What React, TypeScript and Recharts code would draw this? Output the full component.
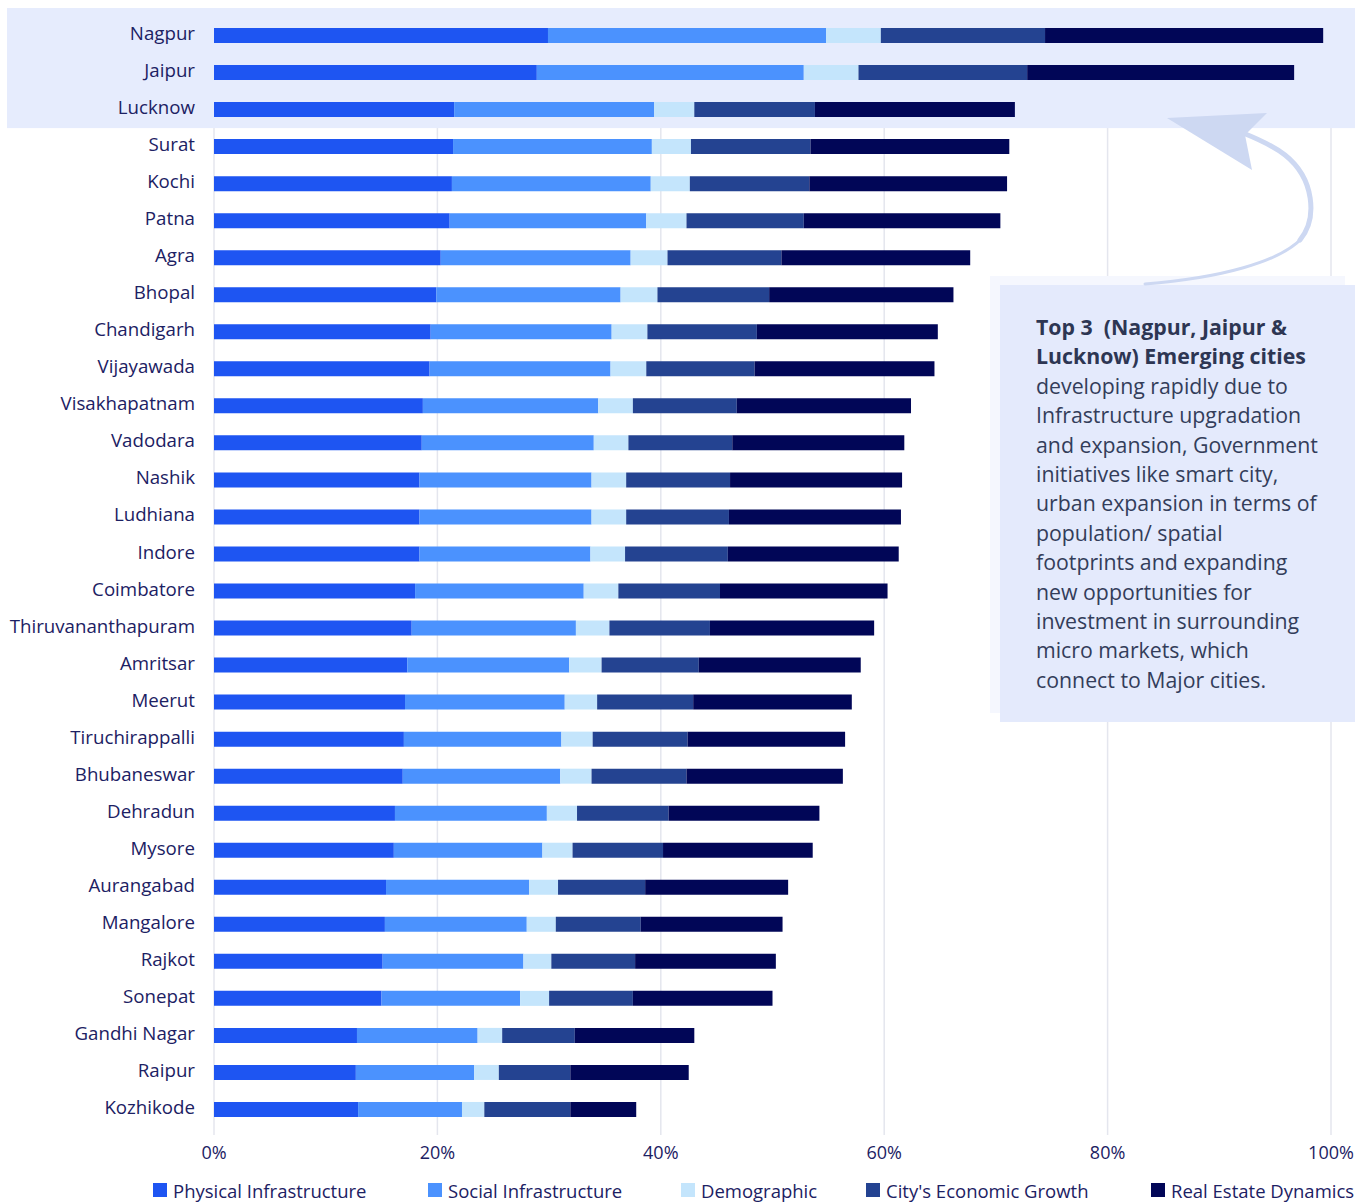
import React from "react";
import {
  BarChart,
  Bar,
  XAxis,
  YAxis,
  CartesianGrid,
  Legend,
  ReferenceArea,
} from "recharts";

const cities = [
  "Nagpur", "Jaipur", "Lucknow", "Surat", "Kochi", "Patna", "Agra", "Bhopal",
  "Chandigarh", "Vijayawada", "Visakhapatnam", "Vadodara", "Nashik", "Ludhiana",
  "Indore", "Coimbatore", "Thiruvananthapuram", "Amritsar", "Meerut",
  "Tiruchirappalli", "Bhubaneswar", "Dehradun", "Mysore", "Aurangabad",
  "Mangalore", "Rajkot", "Sonepat", "Gandhi Nagar", "Raipur", "Kozhikode",
];

const physical = [29.9, 28.9, 21.5, 21.4, 21.3, 21.1, 20.3, 19.9, 19.4, 19.3, 18.7, 18.6, 18.4, 18.4, 18.4, 18.0, 17.7, 17.3, 17.1, 17.0, 16.9, 16.2, 16.1, 15.4, 15.3, 15.1, 15.0, 12.8, 12.7, 12.9];
const social = [24.9, 23.9, 17.9, 17.8, 17.8, 17.6, 17.0, 16.5, 16.2, 16.2, 15.7, 15.4, 15.4, 15.4, 15.3, 15.1, 14.7, 14.5, 14.3, 14.1, 14.1, 13.6, 13.3, 12.8, 12.7, 12.6, 12.4, 10.8, 10.6, 9.3];
const demographic = [4.9, 4.9, 3.6, 3.5, 3.5, 3.6, 3.3, 3.3, 3.2, 3.2, 3.1, 3.1, 3.1, 3.1, 3.1, 3.1, 3.0, 2.9, 2.9, 2.8, 2.8, 2.7, 2.7, 2.6, 2.6, 2.5, 2.6, 2.2, 2.2, 2.0];
const economic = [14.7, 15.1, 10.8, 10.7, 10.7, 10.5, 10.2, 10.0, 9.8, 9.7, 9.3, 9.3, 9.3, 9.2, 9.2, 9.1, 9.0, 8.7, 8.6, 8.5, 8.5, 8.2, 8.1, 7.8, 7.6, 7.5, 7.5, 6.5, 6.4, 7.7];
const realEstate = [24.9, 23.9, 17.9, 17.8, 17.7, 17.6, 16.9, 16.5, 16.2, 16.1, 15.6, 15.4, 15.4, 15.4, 15.3, 15.0, 14.7, 14.5, 14.2, 14.1, 14.0, 13.5, 13.4, 12.8, 12.7, 12.6, 12.5, 10.7, 10.6, 5.9];

const xTicks = [0, 20, 40, 60, 80, 100];

const seriesList = [
  { key: "physical", name: "Physical Infrastructure", color: "#1e55f2" },
  { key: "social", name: "Social Infrastructure", color: "#4b92fe" },
  { key: "demographic", name: "Demographic", color: "#c4e5fc" },
  { key: "economic", name: "City's Economic Growth", color: "#244391" },
  { key: "realEstate", name: "Real Estate Dynamics", color: "#010657" },
];

const data = cities.map((city, i) => ({
  city,
  physical: physical[i],
  social: social[i],
  demographic: demographic[i],
  economic: economic[i],
  realEstate: realEstate[i],
}));

const FONT = "'Open Sans', 'Noto Sans', sans-serif";
const NAVY = "#1c2163";

const noteLines = [
  "developing rapidly due to",
  "Infrastructure upgradation",
  "and expansion, Government",
  "initiatives like smart city,",
  "urban expansion in terms of",
  "population/ spatial",
  "footprints and expanding",
  "new opportunities for",
  "investment in surrounding",
  "micro markets, which",
  "connect to Major cities.",
];

// item widths so the squares land where the original legend has them
const legendWidths = [275, 253, 185, 285, 210];

function LegendRow() {
  return (
    <div style={{ display: "flex", paddingLeft: 153, height: 30, alignItems: "center" }}>
      {seriesList.map((s, i) => (
        <div key={s.key} style={{ width: legendWidths[i], display: "flex", alignItems: "center", whiteSpace: "nowrap" }}>
          <span style={{ width: 14, height: 14, background: s.color, display: "inline-block", marginRight: 6 }} />
          <span style={{ fontSize: 18.5, color: NAVY, fontFamily: FONT }}>{s.name}</span>
        </div>
      ))}
    </div>
  );
}

function Highlight(props: any) {
  const { x, y, width, height } = props;
  return <rect x={x - 207} y={y - 9} width={width + 231} height={height + 9} fill="#e6ecfd" />;
}

function CityTick(props: any) {
  const { x, y, payload } = props;
  return (
    <text x={x} y={y - 2} dy="0.35em" textAnchor="end" fill={NAVY} fontSize={18.7} fontFamily={FONT}>
      {payload.value}
    </text>
  );
}

export default function App() {
  return (
    <div style={{ position: "absolute", left: 0, top: 0, width: 1362, height: 1202, background: "#fff", fontFamily: FONT }}>
      <BarChart
        width={1362}
        height={1202}
        data={data}
        layout="vertical"
        margin={{ top: 17, right: 31, left: 0, bottom: 14 }}
        barSize={15}
      >
        <CartesianGrid horizontal={false} stroke="#e4e6ee" strokeWidth={1.5} />
        <ReferenceArea y1="Nagpur" y2="Lucknow" ifOverflow="visible" shape={<Highlight />} />
        <XAxis
          type="number"
          domain={[0, 100]}
          ticks={xTicks}
          tickFormatter={(v) => `${v}%`}
          axisLine={false}
          tickLine={{ stroke: "#e4e6ee", strokeWidth: 1.5 }}
          tickSize={7}
          tickMargin={11}
          height={30}
          tick={{ fill: NAVY, fontSize: 18, fontFamily: FONT }}
          interval={0}
        />
        <YAxis
          type="category"
          dataKey="city"
          width={214}
          axisLine={false}
          tickLine={false}
          tickMargin={13}
          interval={0}
          tick={<CityTick />}
        />
        <Legend verticalAlign="bottom" height={30} content={() => <LegendRow />} wrapperStyle={{ left: 0, width: 1362, top: 1175 }} />
        {seriesList.map((s) => (
          <Bar key={s.key} dataKey={s.key} name={s.name} stackId="a" fill={s.color} isAnimationActive={false} />
        ))}
      </BarChart>

      <div style={{ position: "absolute", left: 990, top: 276, width: 355, height: 437, background: "#f5f7fe" }} />
      <div style={{ position: "absolute", left: 1000, top: 285, width: 355, height: 437, background: "#e4eafc" }}>
        <div style={{ position: "absolute", left: 36, top: 27, fontSize: 21.3, lineHeight: "29.4px", color: "#333d5a", fontFamily: FONT, whiteSpace: "nowrap" }}>
          <div style={{ fontWeight: 700, color: "#2d3653" }}>Top 3&nbsp; (Nagpur, Jaipur &amp;</div>
          <div style={{ fontWeight: 700, color: "#2d3653" }}>Lucknow) Emerging cities</div>
          {noteLines.map((l) => (
            <div key={l}>{l}</div>
          ))}
        </div>
      </div>

      <svg width={1362} height={1202} style={{ position: "absolute", left: 0, top: 0, pointerEvents: "none" }}>
        <path d="M 1145 284 C 1220 278, 1280 262, 1302 238" fill="none" stroke="#cdd8f2" strokeWidth={3} strokeLinecap="round" />
        <path d="M 1300 240 C 1318 218, 1314 178, 1285 155 C 1272 145, 1258 139, 1243 133" fill="none" stroke="#cdd8f2" strokeWidth={5} strokeLinecap="round" />
        <polygon points="1167,118 1267,113 1245,135 1252,170" fill="#cdd8f2" />
      </svg>
    </div>
  );
}
